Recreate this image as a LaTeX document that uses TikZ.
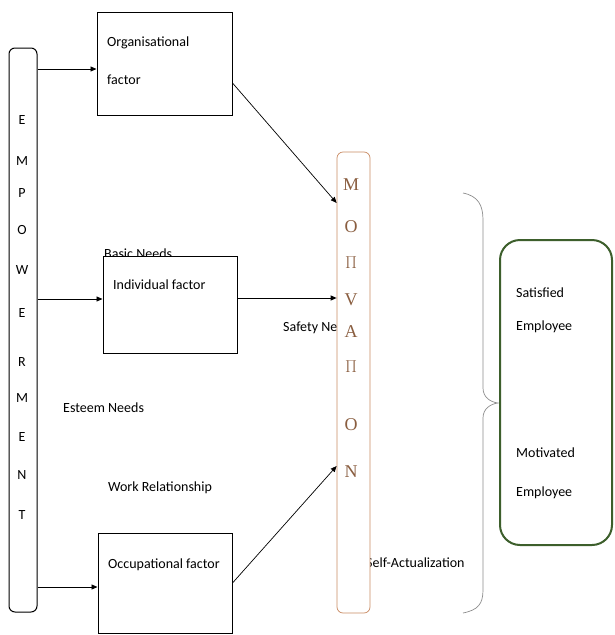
\documentclass[tikz,border=0pt]{standalone}
\usepackage{fontspec}
\setmainfont{Carlito}
\newfontfamily\lettfont{Liberation Serif}
\usetikzlibrary{arrows.meta,positioning,calc}
\definecolor{mbrown}{HTML}{C98B63}
\definecolor{mletter}{HTML}{8A5E40}
\definecolor{mgreen}{HTML}{3D5F2C}
\definecolor{mgrey}{HTML}{8C8C8C}

\begin{document}
\begin{tikzpicture}[x=1pt,y=-1pt,
  every node/.style={font=\fontsize{14}{16}\selectfont},
  box/.style={draw,fill=white,line width=1pt,inner sep=0pt},
  lbl/.style={anchor=west,inner sep=0pt},
  arr/.style={-{Triangle[length=6pt,width=5pt]},line width=0.9pt}]
  \useasboundingbox (0,0) rectangle (614,635);
  % free labels (partly hidden by the boxes)
  \node[lbl] (basic) at (104,254) {Basic Needs};
  \node[lbl] (safety) at (283,328) {Safety Needs};
  \node[lbl] (esteem) at (63,408) {Esteem Needs};
  \node[lbl] (work) at (108,488) {Work Relationship};
  \node[lbl] (selfact) at (366,563) {Self-Actualization};
  % left column
  \node[box,rounded corners=6pt,minimum width=28,minimum height=564] (emp) at (23,330) {};
  \foreach \l/\y in {E/120,M/161,P/193,O/230,W/270,E/313,R/362,M/398,E/437,N/475,T/515}
    \node (emp\y) at (22,\y) {\l};
  % factors
  \node[box,minimum width=135,minimum height=103] (org) at (164.5,63.5) {};
  \node[box,minimum width=134,minimum height=97] (indiv) at (170,304.5) {};
  \node[box,minimum width=134,minimum height=100] (occup) at (165,583) {};
  \node[lbl] (orgt1) at (107,43) {Organisational};
  \node[lbl] (orgt2) at (107,80) {factor};
  \node[lbl] (indivt) at (113,285) {Individual factor};
  \node[lbl] (occupt) at (108,565) {Occupational factor};
  % motivation
  \node[box,draw=mbrown,line width=0.7pt,rounded corners=6pt,minimum width=33,minimum height=461] (motiv) at (353.5,382.5) {};
  \foreach \l/\y in {M/185,O/227,$\Pi$/263,V/300,A/332,$\Pi$/367,O/425,N/472}
    \node[text=mletter,font=\lettfont\fontsize{18}{20}\selectfont] (mot\y) at (351,\y) {\l};
  \draw[arr] (emp.east |- 0,69) -- (org.west |- 0,69);
  \draw[arr] (emp.east |- 0,299) -- (indiv.west |- 0,299);
  \draw[arr] (emp.east |- 0,587) -- (occup.west |- 0,587);
  \draw[arr,line width=0.7pt] (org.east |- 0,83) -- (motiv.west |- 0,203);
  \draw[arr] (indiv.east |- 0,298) -- (motiv.west |- 0,298);
  \draw[arr,line width=0.7pt] (occup.east |- 0,583) -- (motiv.west |- 0,466);
  % brace
  \draw[mgrey,line width=0.7pt] (463,193) .. controls (478,196) and (483,205) .. (483,220)
    -- (483,388) .. controls (483,397) and (490,402) .. (498,403)
    .. controls (490,404) and (483,409) .. (483,418)
    -- (483,590) .. controls (483,604) and (478,610) .. (463,613);
  % result
  \node[box,draw=mgreen,line width=2pt,rounded corners=20pt,minimum width=112,minimum height=305] (res) at (556,392.5) {};
  \node[lbl] (sat1) at (516,293) {Satisfied};
  \node[lbl] (sat2) at (516,327) {Employee};
  \node[lbl] (mot1) at (516,453) {Motivated};
  \node[lbl] (mot2) at (516,493) {Employee};
\end{tikzpicture}
\end{document}
